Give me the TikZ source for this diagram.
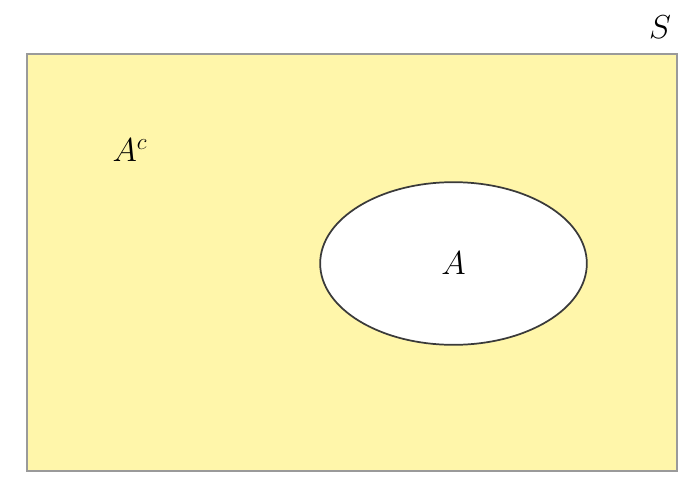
\documentclass[tikz,border=0pt]{standalone}
\usetikzlibrary{shapes.geometric,positioning}
\definecolor{spaceyellow}{HTML}{FFF6AA}
\definecolor{spaceedge}{HTML}{9A9A9A}
\definecolor{setedge}{HTML}{3A3A3A}
\tikzset{
    space/.style={draw=spaceedge, line width=1.6pt, fill=spaceyellow,
        rectangle, minimum width=487.5pt, minimum height=312.75pt,
        inner sep=0pt},
    event/.style={draw=setedge, line width=1.3pt, fill=white, ellipse,
        minimum width=200pt, minimum height=122pt, inner sep=0pt},
    setlabel/.style={inner sep=0pt, font=\fontsize{24}{28}\selectfont},
}
\begin{document}
\begin{tikzpicture}[x=0.75pt, y=-0.75pt]
    \useasboundingbox (0,0) rectangle (697,486);
    % sample space and event
    \node[space] (S) at (352,262.5) {};
    \node[event] (A) at (453.5,263.5) {};
    % labels
    \node[setlabel] (Alab) at (A) {$A$};
    \node[setlabel] (Aclab) at (130,150) {$A^c$};
    \node[setlabel, font=\fontsize{31}{34}\selectfont] (Slab) at (660,27) {$S$};
\end{tikzpicture}
\end{document}
